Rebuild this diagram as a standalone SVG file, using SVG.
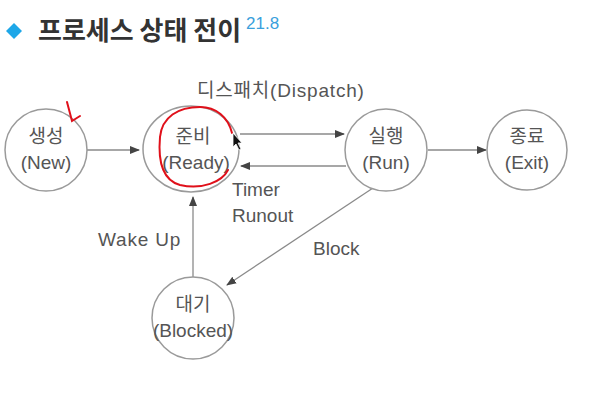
<svg xmlns="http://www.w3.org/2000/svg" width="599" height="401" viewBox="0 0 599 401">
<style>
.node{fill:#fff;stroke:#9a9a9a;stroke-width:1.5}
.lbl{font-family:"Liberation Sans","Noto Sans CJK KR",sans-serif;font-size:19px;fill:#555;text-anchor:middle}
.edge{stroke:#8a8a8a;stroke-width:1.3;fill:none;marker-end:url(#ah)}
.el{font-family:"Liberation Sans","Noto Sans CJK KR",sans-serif;font-size:19px;fill:#555}
</style>
<defs>
<marker id="ah" viewBox="0 0 10 10" refX="9" refY="5" markerWidth="10" markerHeight="10" markerUnits="userSpaceOnUse" orient="auto">
<path d="M0,1 L10,5 L0,9 Z" fill="#444"/>
</marker>
</defs>
<rect width="599" height="401" fill="#fff"/>
<g id="title">
<path d="M14,23 L22,31 L14,39 L6,31 Z" fill="#1ea7e8"/>
<text x="38" y="40" font-family="'Noto Sans CJK KR',sans-serif" font-size="26" font-weight="bold" fill="#333">프로세스 상태 전이</text>
<text x="246" y="29" font-family="'Liberation Sans',sans-serif" font-size="17" fill="#3aa0dc">21.8</text>
</g>
<g id="connectors">
<line class="edge" x1="87" y1="150" x2="139" y2="150"/>
<line class="edge" x1="240" y1="134" x2="344" y2="134"/>
<line class="edge" x1="346" y1="166" x2="241" y2="166"/>
<line class="edge" x1="428" y1="150" x2="486" y2="150"/>
<line class="edge" x1="193" y1="277" x2="193" y2="197"/>
<line class="edge" x1="373" y1="188" x2="227" y2="285"/>
<text class="el" x="197" y="97" letter-spacing="0.8">디스패치(Dispatch)</text>
<text class="el" x="232" y="196">Timer</text>
<text class="el" x="232" y="222">Runout</text>
<text class="el" x="98" y="246" letter-spacing="0.8">Wake Up</text>
<text class="el" x="313" y="255">Block</text>
</g>
<g id="new">
<circle class="node" cx="46" cy="150" r="41"/>
<text class="lbl" x="46" y="143">생성</text>
<text class="lbl" x="46" y="169">(New)</text>
</g>
<g id="ready">
<ellipse class="node" cx="191" cy="149" rx="48" ry="43"/>
<text class="lbl" x="193" y="143">준비</text>
<text class="lbl" x="196" y="169">(Ready)</text>
</g>
<g id="run">
<circle class="node" cx="386" cy="150" r="41"/>
<text class="lbl" x="386" y="143">실행</text>
<text class="lbl" x="386" y="169">(Run)</text>
</g>
<g id="exit">
<circle class="node" cx="527" cy="150" r="40"/>
<text class="lbl" x="527" y="143">종료</text>
<text class="lbl" x="527" y="169">(Exit)</text>
</g>
<g id="blocked">
<circle class="node" cx="193" cy="318" r="41"/>
<text class="lbl" x="193" y="311">대기</text>
<text class="lbl" x="193" y="337">(Blocked)</text>
</g>
<g id="annotations" fill="none" stroke="#e0101a" stroke-width="2" stroke-linecap="round">
<path d="M67,102 L72,121 L80,116"/>
<path d="M232,133 C228,117 216,107 200,107 C178,107 162,117 160,137 C158,160 162,180 180,185 C202,190 222,182 228,170"/>
</g>
<path d="M233,133 L233,147 L236,144 L239,150 L241,149 L238,143 L242,143 Z" fill="#111" stroke="#fff" stroke-width="0.8"/>
</svg>
